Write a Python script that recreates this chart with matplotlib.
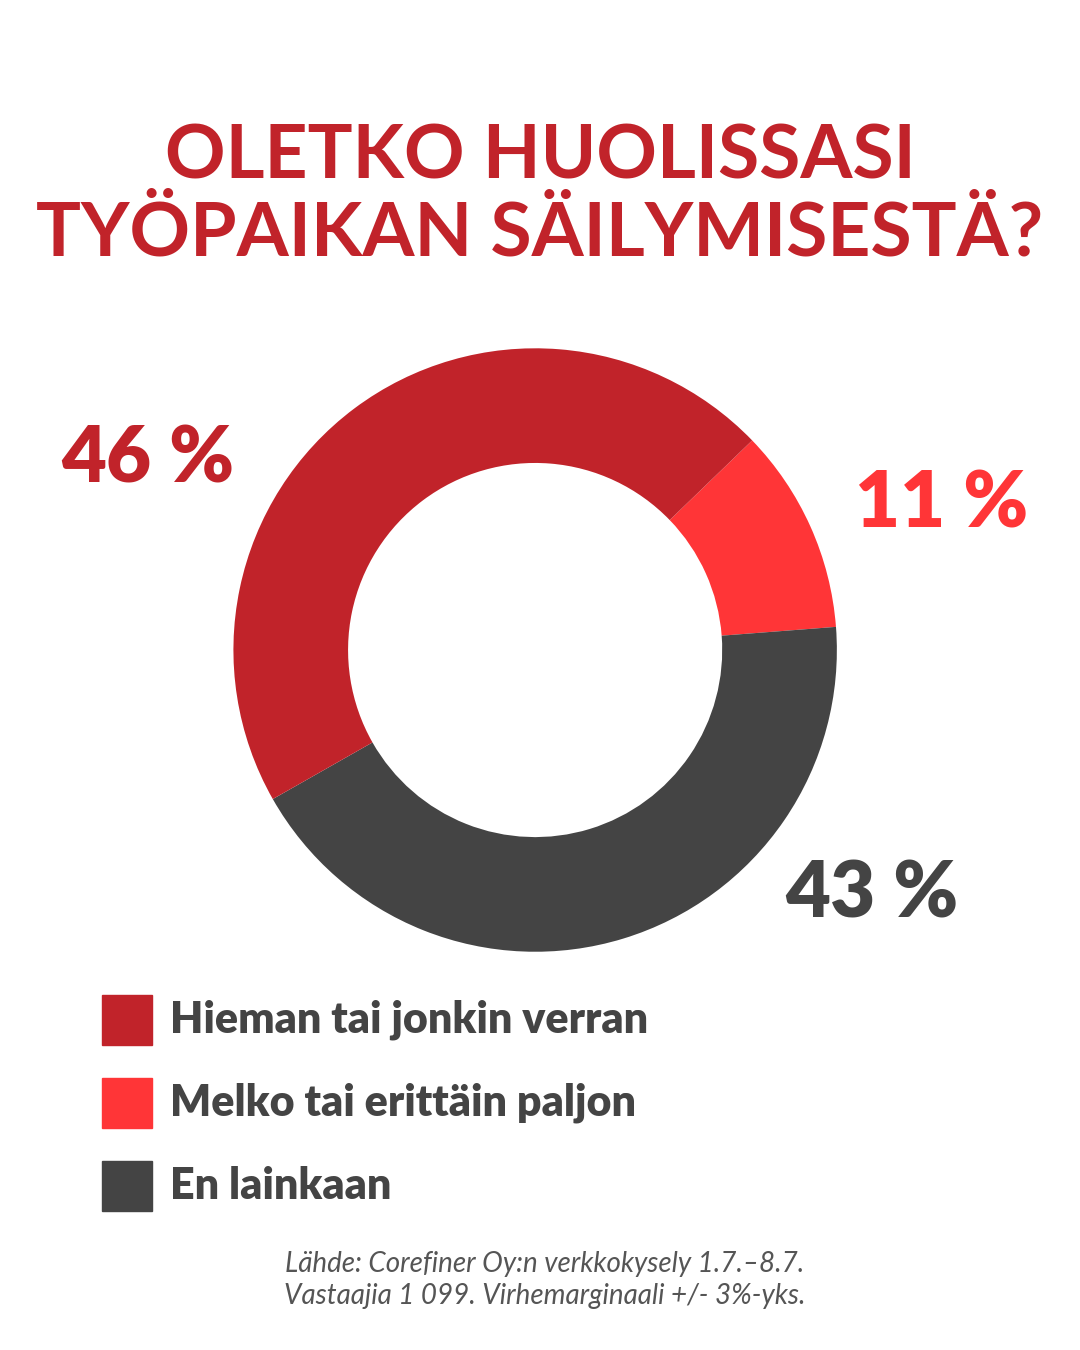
import matplotlib.pyplot as plt
from matplotlib.patches import Rectangle

categories = ['Hieman tai jonkin verran', 'Melko tai erittäin paljon', 'En lainkaan']
values = [46, 11, 43]
colors = ['#C1232A', '#FF3537', '#444444']
labels = ['46 %', '11 %', '43 %']
title = 'OLETKO HUOLISSASI\nTYÖPAIKAN SÄILYMISESTÄ?'
source = 'Lähde: Corefiner Oy:n verkkokysely 1.7.–8.7.\nVastaajia 1 099. Virhemarginaali +/- 3%-yks.'

plt.rcParams['font.family'] = ['Lato', 'DejaVu Sans']
fig = plt.figure(figsize=(10.8, 13.5), dpi=100)
fig.patch.set_facecolor('white')

# donut, drawn clockwise starting from the small slice
ax = fig.add_axes([0.216, 0.295, 0.559, 0.447])
order = [1, 2, 0]
ax.pie([values[i] for i in order], colors=[colors[i] for i in order],
       startangle=44, counterclock=False,
       wedgeprops=dict(width=0.38, edgecolor='none'))
ax.set_xlim(-1, 1)
ax.set_ylim(-1, 1)
ax.set_aspect('equal')
ax.axis('off')

fig.text(0.5, 0.855, title, ha='center', va='center', fontsize=54,
         fontweight='bold', color='#C1232A', linespacing=1.15)

fig.text(0.137, 1 - 460 / 1350, labels[0], ha='center', va='center',
         fontsize=56, fontweight='heavy', color=colors[0])
fig.text(0.872, 1 - 505 / 1350, labels[1], ha='center', va='center',
         fontsize=56, fontweight='heavy', color=colors[1])
fig.text(0.807, 1 - 895 / 1350, labels[2], ha='center', va='center',
         fontsize=56, fontweight='heavy', color=colors[2])

for i, (cat, c) in enumerate(zip(categories, colors)):
    yc = 1020 + i * 83
    fig.patches.append(Rectangle((102 / 1080, 1 - (yc + 25) / 1350), 50 / 1080, 50 / 1350,
                                 transform=fig.transFigure, color=c))
    fig.text(170 / 1080, 1 - yc / 1350, cat, ha='left', va='center',
             fontsize=31, fontweight='heavy', color='#444444')

fig.text(545 / 1080, 1 - 1280 / 1350, source, ha='center', va='center',
         fontsize=20, style='italic', color='#555555', linespacing=1.3)

fig.savefig('out.png', dpi=100, facecolor='white')
